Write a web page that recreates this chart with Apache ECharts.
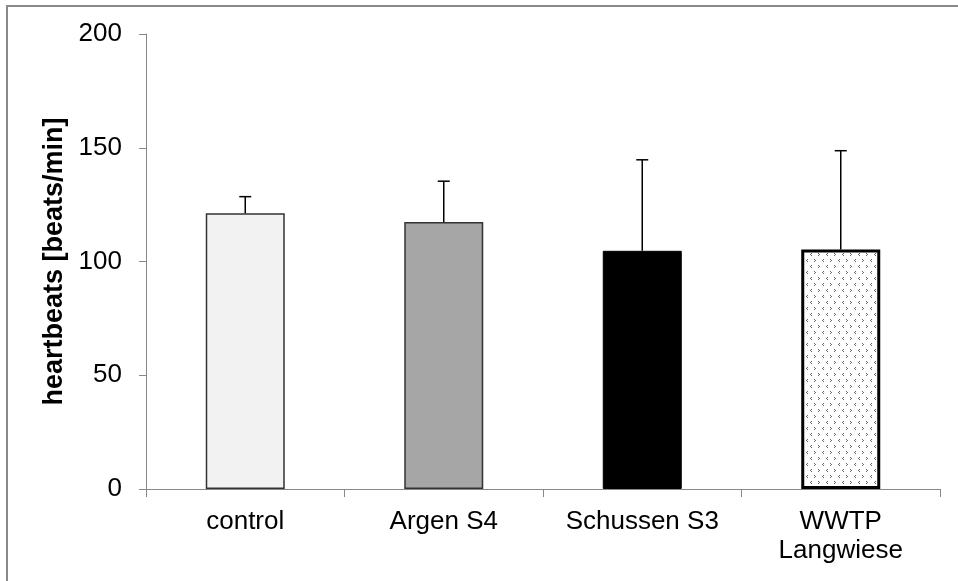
<!DOCTYPE html>
<html>
<head>
<meta charset="utf-8">
<script src="https://cdn.jsdelivr.net/npm/echarts@6/dist/echarts.min.js"></script>
<style>
html,body{margin:0;padding:0;background:#fff;}
#chart{width:958px;height:581px;}
</style>
</head>
<body>
<div id="chart"></div>
<script>
const categories = ['control', 'Argen S4', 'Schussen S3', 'WWTP\nLangwiese'];
const meanValues = [121.2, 117.4, 104.7, 105.3];
const sdValues = [7.3, 17.9, 40.0, 43.4];
const yTicks = [0, 50, 100, 150, 200];

// pattern for the last bar
function makePattern() {
  const c = document.createElement('canvas');
  c.width = 16; c.height = 12;
  const g = c.getContext('2d');
  g.fillStyle = '#fff';
  g.fillRect(0, 0, 16, 12);
  g.fillStyle = '#666';
  function chevL(x, y) { g.fillRect(x+1, y, 1, 1); g.fillRect(x, y+1, 1, 1); g.fillRect(x+1, y+2, 1, 1); }
  function chevR(x, y) { g.fillRect(x, y, 1, 1); g.fillRect(x+1, y+1, 1, 1); g.fillRect(x, y+2, 1, 1); }
  chevR(2, 1); chevL(10, 1);
  chevL(6, 7); chevR(14, 7);
  return c;
}

const barStyles = [
  { color: '#f2f2f2', borderColor: '#333', borderWidth: 1.5 },
  { color: '#a6a6a6', borderColor: '#333', borderWidth: 1.5 },
  { color: '#000000', borderColor: '#000', borderWidth: 1 },
  { color: { image: makePattern(), repeat: 'repeat' }, borderColor: '#000', borderWidth: 3 }
];

const chart = echarts.init(document.getElementById('chart'), null, { renderer: 'canvas' });
chart.setOption({
  animation: false,
  backgroundColor: '#fff',
  graphic: [{
    type: 'rect',
    shape: { x: 7, y: 6, width: 1200, height: 1200 },
    style: { fill: 'none', stroke: '#898989', lineWidth: 2 },
    silent: true
  }],
  grid: { left: 146, right: 18, top: 34, bottom: 92 },
  xAxis: {
    type: 'category',
    data: categories,
    axisLine: { lineStyle: { color: '#888', width: 1 } },
    axisTick: { show: true, length: 8, lineStyle: { color: '#888' } },
    axisLabel: {
      color: '#000', fontFamily: 'Liberation Sans', fontSize: 26,
      margin: 18, lineHeight: 29, interval: 0
    }
  },
  yAxis: {
    type: 'value',
    min: yTicks[0], max: yTicks[yTicks.length - 1], interval: 50,
    name: 'heartbeats [beats/min]',
    nameLocation: 'middle',
    nameGap: 76,
    nameRotate: 90,
    nameTextStyle: { color: '#000', fontFamily: 'Liberation Sans', fontWeight: 'bold', fontSize: 27 },
    axisLine: { show: true, lineStyle: { color: '#888', width: 1 } },
    axisTick: { show: true, length: 7, lineStyle: { color: '#888' } },
    splitLine: { show: false },
    axisLabel: { color: '#000', fontFamily: 'Liberation Sans', fontSize: 26, margin: 24 }
  },
  series: [
    {
      type: 'bar',
      barWidth: 79,
      data: meanValues.map((v, i) => ({ value: v, itemStyle: barStyles[i] })),
      z: 2
    },
    {
      type: 'custom',
      z: 3,
      data: meanValues.map((v, i) => [i, v, v + sdValues[i]]),
      renderItem: function (params, api) {
        const base = api.coord([api.value(0), api.value(1)]);
        const top = api.coord([api.value(0), api.value(2)]);
        const half = 6;
        return {
          type: 'group',
          children: [
            { type: 'line', shape: { x1: base[0], y1: base[1], x2: top[0], y2: top[1] },
              style: { stroke: '#000', lineWidth: 1.5 } },
            { type: 'line', shape: { x1: top[0] - half, y1: top[1], x2: top[0] + half, y2: top[1] },
              style: { stroke: '#000', lineWidth: 1.5 } }
          ]
        };
      }
    }
  ]
});
</script>
</body>
</html>
